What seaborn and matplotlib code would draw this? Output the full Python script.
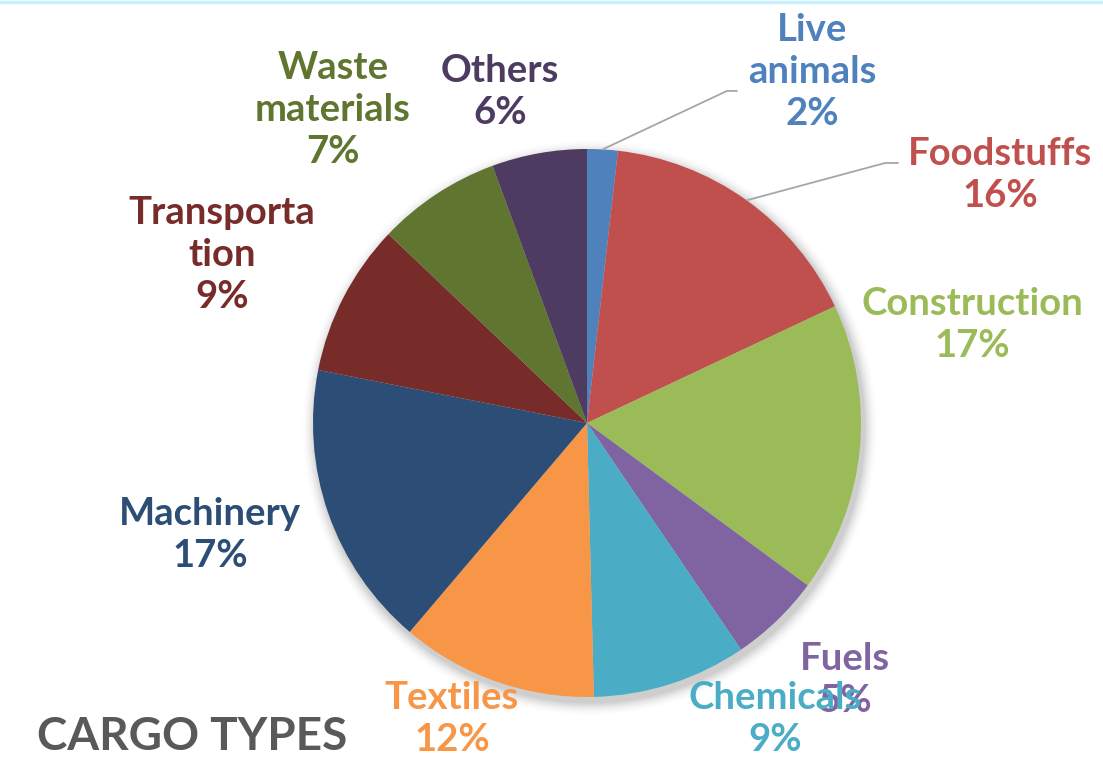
import matplotlib
matplotlib.use("Agg")
import matplotlib.pyplot as plt
import seaborn as sns
from matplotlib.patches import Circle
from matplotlib.lines import Line2D
import numpy as np

# ---- data ----
categories = ["Live\nanimals", "Foodstuffs", "Construction", "Fuels", "Chemicals",
              "Textiles", "Machinery", "Transporta\ntion", "Waste\nmaterials", "Others"]
shares = [1.8, 16.2, 17.1, 5.4, 9.1, 11.6, 16.9, 9.0, 7.3, 5.6]
colors = ["#4F81BD", "#C0504D", "#9BBB59", "#8064A2", "#4BACC6",
          "#F79646", "#2C4D75", "#772C2A", "#5F7530", "#4D3B62"]
title = "CARGO TYPES"

# ---- layout (label centres in pie-radius units, leader elbows) ----
label_pos = [(0.821, 1.281), (1.507, 0.905), (1.405, 0.358), (0.942, -0.938),
             (0.686, -1.080), (-0.493, -1.080), (-1.376, -0.409), (-1.332, 0.613),
             (-0.927, 1.142), (-0.318, 1.208)]
leaders = {0: [(0.511, 1.212), (0.547, 1.212)],
           1: [(1.088, 0.949), (1.135, 0.949)]}

sns.set_theme(style="white")
plt.rcParams['font.family'] = ['Lato', 'DejaVu Sans']

W, H = 1103, 763
fig = plt.figure(figsize=(W / 100, H / 100), dpi=100)
fig.patch.set_facecolor("white")
ax = fig.add_axes([0, 0, 1, 1])
R, cx, cy = 274.0, 587.0, 423.0

palette = sns.color_palette(colors)

# soft shadow
for i, a in enumerate(np.linspace(0.04, 0.008, 8)):
    ax.add_patch(Circle((0.01, -0.018), 1.0 + 0.006 * (i + 1), color="black",
                        alpha=a, lw=0, zorder=0))

wedges, _ = ax.pie(shares, colors=palette, startangle=90, counterclock=False,
                   radius=1.0, center=(0, 0),
                   wedgeprops=dict(linewidth=0, zorder=2))

ax.set_xlim(-cx / R, (W - cx) / R)
ax.set_ylim(-(H - cy) / R, cy / R)
ax.set_aspect("auto")
ax.axis("off")

total = sum(shares)
cum = 0.0
for i, (cat, v) in enumerate(zip(categories, shares)):
    mid = (cum + v / 2) / total * 2 * np.pi
    cum += v
    x, y = label_pos[i]
    ax.text(x, y, f"{cat}\n{round(v)}%", ha="center", va="center",
            color=colors[i], fontsize=27.5, fontweight="bold", linespacing=1.3,
            zorder=5)
    if i in leaders:
        sx, sy = np.sin(mid), np.cos(mid)
        pts = [(sx, sy)] + leaders[i]
        ax.plot([p[0] for p in pts], [p[1] for p in pts], color="#A6A6A6",
                lw=1.3, zorder=3)

fig.text(37 / W, 1 - 737 / H, title, ha="left", va="center", color="#595959",
         fontsize=33, fontweight="bold")

fig.add_artist(Line2D([0, 1], [1 - 1.5 / H, 1 - 1.5 / H], color="#C9EEFC",
                      lw=2.5, transform=fig.transFigure))

fig.savefig("out.png", dpi=100, facecolor="white")
